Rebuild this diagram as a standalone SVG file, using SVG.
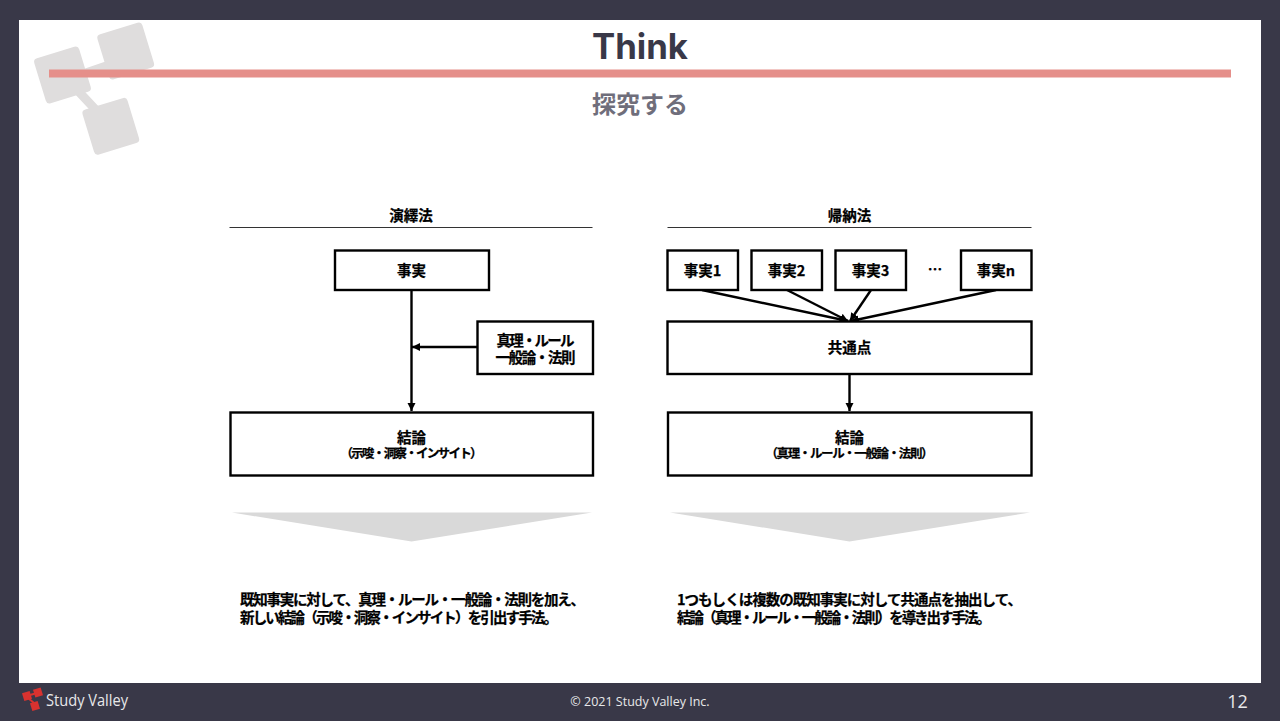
<svg xmlns="http://www.w3.org/2000/svg" width="1280" height="721" viewBox="0 0 1280 721">
<style>
.box{fill:#fff;stroke:#000;stroke-width:2.4}
.t{font-family:"Noto Sans CJK JP","Liberation Sans",sans-serif;font-weight:700;fill:#000;text-anchor:middle;stroke:#000;stroke-width:.25}
.s14{font-size:14.5px}
.s12{font-size:12.500px}
.d{font-family:"Noto Sans CJK JP",sans-serif;font-weight:700;font-size:14.500px;fill:#000;stroke:#000;stroke-width:.25}
.con{stroke:#000;stroke-width:2.4;fill:none}
.logo{fill:#dfdddd}
</style>
<defs>
<marker id="ah" markerUnits="userSpaceOnUse" markerWidth="9" markerHeight="9" refX="8" refY="4" orient="auto"><path d="M0 0L8 4L0 8Z" fill="#000"/></marker>
</defs>
<rect width="1280" height="721" fill="#393848"/>
<rect x="19" y="20" width="1242" height="663" fill="#fff"/>
<g id="logo-watermark">
<path d="M79 92L95 109" stroke="#dfdddd" stroke-width="9"/>
<path d="M80 75L115 63" stroke="#dfdddd" stroke-width="9"/>
<rect class="logo" x="39" y="51.500" width="47" height="47" rx="4" transform="rotate(-17 62.500 75)"/>
<rect class="logo" x="102.200" y="27.500" width="47" height="47" rx="4" transform="rotate(-17 125.700 51)"/>
<rect class="logo" x="87.300" y="102.800" width="47" height="47" rx="4" transform="rotate(-17 110.800 126.300)"/>
</g>
<rect x="49" y="69.500" width="1182" height="8" fill="#e58f8a"/>
<text x="640" y="59" font-family="Inter,'Open Sans',sans-serif" font-weight="700" font-size="35" fill="#393848" text-anchor="middle" textLength="96" lengthAdjust="spacingAndGlyphs">Think</text>
<text x="640" y="113" font-family="'Noto Sans CJK JP',sans-serif" font-weight="700" font-size="24" fill="#6f6e7b" text-anchor="middle">探究する</text>

<text class="t s14" x="411" y="221">演繹法</text>
<path d="M229.500 227.500H592.500" stroke="#333" stroke-width="1.100"/>
<text class="t s14" x="849.500" y="221">帰納法</text>
<path d="M667.500 227.500H1031.500" stroke="#333" stroke-width="1.100"/>

<g id="connectors">
<path class="con" d="M411.500 290V411" marker-end="url(#ah)"/>
<path class="con" d="M477 347H412" marker-end="url(#ah)"/>
<path class="con" d="M702 290L848 321" marker-end="url(#ah)"/>
<path class="con" d="M787 290L848 321" marker-end="url(#ah)"/>
<path class="con" d="M871 290L850 321" marker-end="url(#ah)"/>
<path class="con" d="M996 290L851 321" marker-end="url(#ah)"/>
<path class="con" d="M849.500 374V411" marker-end="url(#ah)"/>
</g>

<g id="n-fact"><rect class="box" x="335" y="250.500" width="154" height="39.500"/><text class="t s14" x="411.500" y="276">事実</text></g>
<g id="n-truth"><rect class="box" x="477.500" y="321.500" width="115.500" height="52.500"/><text class="t s14" x="535.500" y="346" textLength="78">真理・ルール</text><text class="t s14" x="535.500" y="363" textLength="80">一般論・法則</text></g>
<g id="n-conc-a"><rect class="box" x="230.500" y="412.500" width="362.500" height="63"/><text class="t s14" x="411.500" y="443">結論</text><text class="t s12" x="411.500" y="458" textLength="142">（示唆・洞察・インサイト）</text></g>

<g id="n-fact1"><rect class="box" x="667.500" y="250.500" width="70.500" height="39.500"/><text class="t s14" x="702.500" y="276">事実1</text></g>
<g id="n-fact2"><rect class="box" x="751.500" y="250.500" width="70.500" height="39.500"/><text class="t s14" x="786.500" y="276">事実2</text></g>
<g id="n-fact3"><rect class="box" x="835.500" y="250.500" width="70.500" height="39.500"/><text class="t s14" x="870.500" y="276">事実3</text></g>
<text class="t s14" x="935" y="275">…</text>
<g id="n-factn"><rect class="box" x="961" y="250.500" width="70.500" height="39.500"/><text class="t s14" x="996" y="276">事実n</text></g>
<g id="n-common"><rect class="box" x="667.500" y="321.500" width="364" height="52.500"/><text class="t s14" x="849.500" y="353">共通点</text></g>
<g id="n-conc-b"><rect class="box" x="668" y="412.500" width="363.500" height="63"/><text class="t s14" x="849.500" y="443">結論</text><text class="t s12" x="849.500" y="458" textLength="168">（真理・ルール・一般論・法則）</text></g>

<path d="M232 512.500H592L411.500 541.500Z" fill="#d9d9d9"/>
<path d="M670 512.500H1030L849.500 541.500Z" fill="#d9d9d9"/>

<text class="d" x="240" y="605" textLength="345">既知事実に対して、真理・ルール・一般論・法則を加え、</text>
<text class="d" x="240" y="623" textLength="318">新しい結論（示唆・洞察・インサイト）を引出す手法。</text>
<text class="d" x="677" y="605" textLength="345">1つもしくは複数の既知事実に対して共通点を抽出して、</text>
<text class="d" x="677" y="623" textLength="314">結論（真理・ルール・一般論・法則）を導き出す手法。</text>

<g id="footer-logo" fill="#d8322f">
<rect x="23" y="692" width="8" height="8" transform="rotate(-17 27 696)"/>
<rect x="34" y="688.500" width="8" height="8" transform="rotate(-17 38 692.500)"/>
<rect x="31" y="702" width="8" height="8" transform="rotate(-17 35 706)"/>
<path d="M28 698L34 703M30 695L37 693" stroke="#d8322f" stroke-width="2"/>
</g>
<text x="46" y="706" font-family="'Open Sans',sans-serif" font-size="16" fill="#e8e8ea" textLength="82" lengthAdjust="spacingAndGlyphs">Study Valley</text>
<text x="640" y="706" font-family="'Open Sans',sans-serif" font-size="12.500" fill="#e8e8ea" text-anchor="middle">© 2021 Study Valley Inc.</text>
<text x="1237.500" y="708" font-family="'Open Sans',sans-serif" font-size="18" fill="#e8e8ea" text-anchor="middle">12</text>
</svg>
